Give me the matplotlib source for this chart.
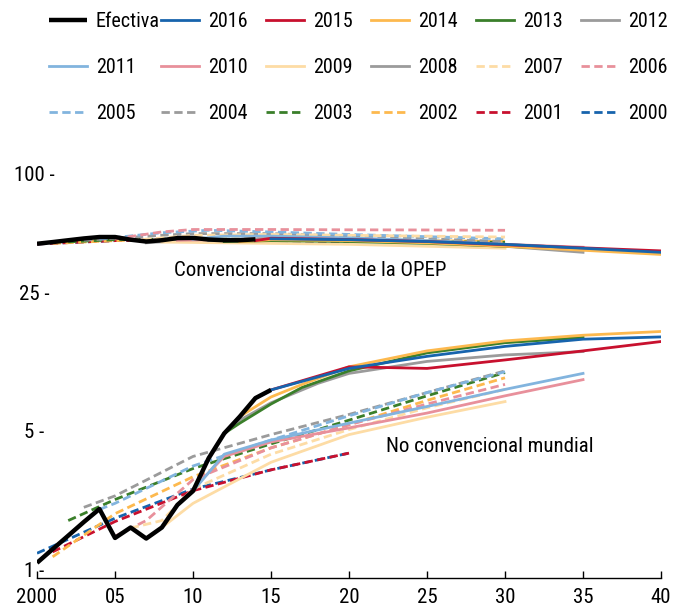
import matplotlib
matplotlib.use("Agg")
import matplotlib.pyplot as plt
from matplotlib import font_manager
from matplotlib.transforms import blended_transform_factory

# look for a narrow sans font, like the condensed face of the original
entries = font_manager.fontManager.ttflist
names = {f.name for f in entries}
family = 'DejaVu Sans'
for cand in ['Liberation Sans Narrow', 'Roboto Condensed', 'Open Sans Condensed', 'DejaVu Sans Condensed']:
    if cand in names:
        family = cand
        break
if family == 'DejaVu Sans':
    for f in entries:
        if str(f.stretch) in ('condensed', 'semi-condensed') and f.name in ('DejaVu Sans', 'Liberation Sans', 'Open Sans', 'Roboto', 'Noto Sans', 'Inter', 'Lato'):
            family = f.name
            plt.rcParams['font.stretch'] = str(f.stretch)
            break
plt.rcParams['font.family'] = [family, 'DejaVu Sans']
FS = 15

# actual production (Efectiva)
act_conv_years = list(range(2000, 2015))
act_conv_vals = [45.3, 46.2, 47.2, 48.2, 49.0, 49.0, 47.5, 46.5, 47.2, 48.4, 48.5, 47.6, 47.2, 47.2, 47.7]
act_unconv_years = list(range(2000, 2016))
act_unconv_vals = [1.10, 1.29, 1.51, 1.77, 2.06, 1.47, 1.66, 1.46, 1.66, 2.16, 2.54, 3.72, 4.97, 6.05, 7.5, 8.25]

vintages = [2016, 2015, 2014, 2013, 2012, 2011, 2010, 2009, 2008,
            2007, 2006, 2005, 2004, 2003, 2002, 2001, 2000]
colors = ['#1764ad', '#c8102e', '#fdb94e', '#3a7f2a', '#9b9b9b', '#82b4de', '#e8909b', '#fddca5', '#9b9b9b',
          '#fddca5', '#e8909b', '#82b4de', '#9b9b9b', '#3a7f2a', '#fdb94e', '#c8102e', '#1764ad']

# conventional non-OPEC projections by vintage
conv_x = {
    2016: [2015, 2020, 2025, 2030, 2035, 2040],
    2015: [2014, 2015, 2020, 2025, 2030, 2035, 2040],
    2014: [2013, 2015, 2020, 2025, 2030, 2035, 2040],
    2013: [2012, 2015, 2020, 2025, 2030, 2035],
    2012: [2011, 2015, 2020, 2025, 2030, 2035],
    2011: [2010, 2012, 2015, 2020, 2025, 2030, 2035],
    2010: [2009, 2015, 2020, 2025, 2030, 2035],
    2009: [2008, 2010, 2015, 2020, 2025, 2030],
    2008: [2007, 2010, 2015, 2020, 2025, 2030],
    2007: [2006, 2010, 2015, 2020, 2025, 2030],
    2006: [2005, 2008, 2010, 2015, 2020, 2025, 2030],
    2005: [2004, 2008, 2011, 2015, 2020, 2025, 2030],
    2004: [2003, 2008, 2010, 2015, 2020, 2025, 2030],
    2003: [2002, 2005, 2010, 2015, 2020, 2025, 2030],
    2002: [2001, 2005, 2010, 2015, 2020, 2025, 2030],
    2001: [2000, 2005, 2010, 2015, 2020],
    2000: [2000, 2005, 2010, 2015, 2020],
}
conv_y = {
    2016: [48.0, 47.5, 46.5, 45.0, 43.0, 41.0],
    2015: [47.0, 48.3, 47.6, 46.5, 44.8, 43.2, 41.7],
    2014: [46.4, 47.5, 47.0, 45.8, 44.0, 42.0, 40.0],
    2013: [46.5, 47.0, 46.5, 45.5, 44.0, 42.5],
    2012: [47.0, 48.0, 47.5, 46.0, 44.0, 41.0],
    2011: [47.8, 49.5, 49.5, 48.5, 47.0, 45.0, 43.0],
    2010: [47.2, 48.0, 47.5, 46.5, 45.0, 43.5],
    2009: [46.2, 46.0, 45.5, 45.0, 44.0, 43.0],
    2008: [45.8, 47.5, 47.5, 46.8, 46.0, 45.0],
    2007: [47.0, 50.0, 50.5, 50.0, 49.5, 49.0],
    2006: [48.0, 52.0, 53.5, 53.5, 53.3, 53.2, 53.0],
    2005: [47.8, 51.5, 53.0, 52.0, 50.5, 49.2, 48.0],
    2004: [47.2, 50.0, 51.0, 51.0, 49.5, 48.0, 46.5],
    2003: [46.3, 47.5, 48.0, 47.5, 47.0, 46.5, 46.0],
    2002: [45.5, 47.0, 48.0, 48.0, 47.5, 47.0, 46.5],
    2001: [45.2, 47.0, 47.5, 47.0, 46.5],
    2000: [45.2, 47.0, 47.5, 47.0, 46.5],
}

# unconventional (world) projections by vintage
unconv_x = {
    2016: [2015, 2020, 2025, 2030, 2035, 2040],
    2015: [2014, 2015, 2020, 2025, 2030, 2035, 2040],
    2014: [2013, 2015, 2017, 2020, 2025, 2030, 2035, 2040],
    2013: [2012, 2013, 2015, 2017, 2020, 2025, 2030, 2035],
    2012: [2011, 2012, 2013, 2015, 2018, 2020, 2025, 2030, 2035],
    2011: [2010, 2012, 2015, 2020, 2025, 2030, 2035],
    2010: [2009, 2010, 2012, 2015, 2020, 2025, 2030, 2035],
    2009: [2008, 2010, 2015, 2020, 2025, 2030],
    2007: [2006, 2008, 2010, 2015, 2020, 2025, 2030],
    2006: [2005, 2007, 2010, 2015, 2020, 2025, 2030],
    2005: [2004, 2005, 2010, 2015, 2020, 2025, 2030],
    2004: [2003, 2005, 2010, 2015, 2020, 2025, 2030],
    2003: [2002, 2005, 2010, 2015, 2020, 2025, 2030],
    2002: [2001, 2005, 2010, 2015, 2020, 2025, 2030],
    2001: [2001, 2005, 2010, 2015, 2020],
    2000: [2000, 2005, 2010, 2015, 2020],
}
unconv_y = {
    2016: [8.25, 10.6, 12.2, 13.7, 14.9, 15.3],
    2015: [7.5, 8.25, 10.8, 10.6, 11.7, 13.0, 14.5],
    2014: [6.05, 7.6, 8.8, 10.8, 13.0, 14.6, 15.6, 16.3],
    2013: [4.97, 5.6, 7.0, 8.5, 10.3, 12.7, 14.3, 15.2],
    2012: [3.72, 5.0, 5.8, 7.1, 8.9, 10.0, 11.5, 12.4, 12.9],
    2011: [2.54, 3.9, 4.6, 5.6, 6.8, 8.3, 10.0],
    2010: [2.16, 2.6, 3.8, 4.5, 5.3, 6.3, 7.7, 9.3],
    2009: [1.66, 2.2, 3.55, 4.9, 6.0, 7.2],
    2007: [1.65, 1.8, 2.6, 3.9, 5.2, 6.7, 8.3],
    2006: [1.5, 1.8, 2.9, 4.2, 5.5, 7.0, 8.8],
    2005: [2.05, 2.2, 3.4, 4.6, 6.1, 8.0, 10.2],
    2004: [2.1, 2.4, 3.8, 4.9, 6.2, 8.0, 10.3],
    2003: [1.8, 2.3, 3.3, 4.4, 5.8, 7.7, 10.1],
    2002: [1.18, 1.95, 3.0, 4.2, 5.5, 7.3, 9.5],
    2001: [1.25, 1.78, 2.55, 3.25, 3.95],
    2000: [1.23, 1.85, 2.6, 3.25, 3.95],
}

xticks = [2000, 2005, 2010, 2015, 2020, 2025, 2030, 2035, 2040]
xticklabels = ['2000', '05', '10', '15', '20', '25', '30', '35', '40']
yticks = [1, 5, 25, 100]
yticklabels = ['1 -', '5 -', '25 -', '100 -']

fig = plt.figure(figsize=(6.77, 6.10), dpi=100)
ax = fig.add_axes([0.0547, 0.0525, 0.9217, 0.7015])

handles = {}
# dashed (older) vintages first, then solid ones on top
for v, c in reversed(list(zip(vintages, colors))):
    ls = '-' if v >= 2008 else (0, (3, 1.6))
    ln = None
    if v in conv_x:
        ln, = ax.plot(conv_x[v], conv_y[v], color=c, lw=2, linestyle=ls)
    if v in unconv_x:
        ln, = ax.plot(unconv_x[v], unconv_y[v], color=c, lw=2, linestyle=ls)
    handles[v] = ln

ax.plot(act_conv_years, act_conv_vals, color='black', lw=3.2, solid_capstyle='butt')
hact, = ax.plot(act_unconv_years, act_unconv_vals, color='black', lw=3.2, solid_capstyle='butt')

ax.set_yscale('log')
ax.set_xlim(2000, 2040)
ax.set_ylim(0.922, 135)
ax.set_yticks([])
ax.minorticks_off()
ax.set_xticks(xticks)
ax.set_xticklabels(xticklabels, fontsize=FS)
ax.tick_params(axis='x', direction='in', length=5, width=1, pad=7)
for s in ['top', 'right', 'left']:
    ax.spines[s].set_visible(False)
ax.spines['bottom'].set_linewidth(1)

trans = blended_transform_factory(ax.transAxes, ax.transData)
for yv, lab in zip(yticks, yticklabels):
    ax.text(-0.005, yv, lab, transform=trans, ha='center', va='center', fontsize=FS)

ax.text(2017.5, 33.2, 'Convencional distinta de la OPEP', ha='center', va='center', fontsize=FS)
ax.text(2029, 4.25, 'No convencional mundial', ha='center', va='center', fontsize=FS)

# legend: 6 columns x 3 rows, filled row by row, one legend per column
items_h = [hact] + [handles[v] for v in vintages]
items_l = ['Efectiva'] + [str(v) for v in vintages]
col_x = [49, 161, 266, 371, 476, 581]
for c, x0 in enumerate(col_x):
    idx = [c, c + 6, c + 12]
    fig.legend([items_h[i] for i in idx], [items_l[i] for i in idx],
               loc='upper left', bbox_to_anchor=(x0 / 677, 0.98), ncol=1,
               frameon=False, fontsize=14.5, handlelength=1.9, handletextpad=0.42,
               labelspacing=1.33, borderpad=0, borderaxespad=0)

fig.savefig('out.png', dpi=100)
